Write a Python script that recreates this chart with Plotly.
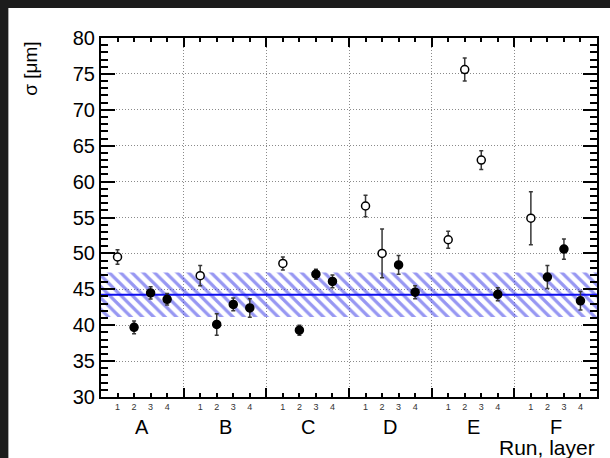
import plotly.graph_objects as go

# ---- data ----
groups = ["A", "B", "C", "D", "E", "F"]
layers = [1, 2, 3, 4]
sigma = [49.5, 39.7, 44.5, 43.6,
         46.9, 40.1, 42.9, 42.4,
         48.6, 39.3, 47.1, 46.1,
         56.6, 50.0, 48.4, 44.6,
         51.9, 75.6, 63.0, 44.3,
         54.9, 46.7, 50.6, 43.4]
sigma_err = [1.0, 0.9, 0.85, 0.8,
             1.4, 1.5, 0.9, 1.3,
             0.9, 0.7, 0.7, 0.9,
             1.5, 3.4, 1.3, 0.9,
             1.2, 1.6, 1.3, 0.9,
             3.7, 1.6, 1.4, 1.3]
open_marker = [1, 0, 0, 0,
               1, 0, 0, 0,
               1, 0, 0, 0,
               1, 1, 0, 0,
               1, 1, 1, 0,
               1, 0, 0, 0]
mean_sigma = 44.25
mean_err = 3.1
y_ticks = [30, 35, 40, 45, 50, 55, 60, 65, 70, 75, 80]

# positions: each run occupies 5 units, layers at 1..4 inside it
xs = [5 * gi + l for gi in range(len(groups)) for l in layers]
xlab = [str(l) for gi in range(len(groups)) for l in layers]
xmax = 5 * len(groups)

fig = go.Figure()

# hatched band (mean +- error)
fig.add_trace(go.Scatter(
    x=[0, xmax, xmax, 0, 0],
    y=[mean_sigma - mean_err, mean_sigma - mean_err,
       mean_sigma + mean_err, mean_sigma + mean_err, mean_sigma - mean_err],
    mode="lines", fill="toself", line=dict(width=0),
    fillcolor="rgba(0,0,0,0)",
    fillpattern=dict(shape="\\", fgcolor="#2f2fe6", bgcolor="rgba(0,0,0,0)",
                     size=8, solidity=0.4, fillmode="overlay"),
    hoverinfo="skip"))
# mean line
fig.add_trace(go.Scatter(x=[0, xmax], y=[mean_sigma, mean_sigma], mode="lines",
                         line=dict(color="#1010f0", width=2), hoverinfo="skip"))

for is_open in (0, 1):
    idx = [i for i in range(len(xs)) if open_marker[i] == is_open]
    fig.add_trace(go.Scatter(
        x=[xs[i] for i in idx], y=[sigma[i] for i in idx],
        mode="markers",
        error_y=dict(type="data", array=[sigma_err[i] for i in idx],
                     color="#383838", thickness=1.5, width=2),
        marker=dict(symbol="circle", size=8,
                    color="white" if is_open else "black",
                    line=dict(color="black", width=1.5))))

ann = []
for gi, g in enumerate(groups):
    ann.append(dict(x=5 * gi + 2.5, xref="x", y=0, yref="paper", yshift=-30,
                    text=g, showarrow=False, xanchor="center", yanchor="middle",
                    font=dict(family="Liberation Sans", size=20, color="black")))
ann.append(dict(x=1, xref="paper", y=0, yref="paper", yshift=-50,
                text="Run, layer", showarrow=False, xanchor="right", yanchor="middle",
                font=dict(family="Liberation Sans", size=21, color="black")))
ann.append(dict(x=(30 - 101) / 498, xref="paper", y=(397 - 68.5) / 359, yref="paper",
                text="σ [μm]", textangle=-90, showarrow=False,
                xanchor="center", yanchor="middle",
                font=dict(family="Liberation Sans", size=19, color="black")))

px_x = lambda p: (p - 101) / 498
px_y = lambda p: (397 - p) / 359
dark = "#1c1c1c"

fig.update_layout(
    width=610, height=458,
    margin=dict(l=101, r=11, t=38, b=61),
    paper_bgcolor="white", plot_bgcolor="white",
    showlegend=False,
    annotations=ann,
    shapes=[dict(type="rect", xref="paper", yref="paper", layer="below",
                 x0=px_x(-20), x1=px_x(8), y0=px_y(480), y1=px_y(-20),
                 fillcolor=dark, line=dict(width=0)),
            dict(type="rect", xref="paper", yref="paper", layer="below",
                 x0=px_x(-20), x1=px_x(630), y0=px_y(8), y1=px_y(-20),
                 fillcolor=dark, line=dict(width=0))],
    xaxis=dict(range=[0, xmax], tickmode="array", tickvals=xs, ticktext=xlab,
               ticks="inside", ticklen=4, tickwidth=1.5, tickcolor="black",
               showline=True, linewidth=2, linecolor="black", mirror="ticks",
               showgrid=False, zeroline=False,
               tickfont=dict(family="Liberation Sans", size=9, color="#333333"),
               minor=dict(tickmode="array", tickvals=list(range(0, xmax + 1, 5)),
                          ticks="inside", ticklen=9, tickwidth=1.5, tickcolor="black",
                          showgrid=True, gridcolor="#8a8a8a", griddash="1px,2px", gridwidth=1)),
    yaxis=dict(range=[30, 80], tickmode="array", tickvals=y_ticks,
               ticks="inside", ticklen=14, tickwidth=1.5, tickcolor="black",
               showline=True, linewidth=2, linecolor="black", mirror="ticks",
               showgrid=True, gridcolor="#8a8a8a", griddash="1px,2px", gridwidth=1,
               zeroline=False,
               tickfont=dict(family="Liberation Sans", size=20, color="black"),
               minor=dict(dtick=1, ticks="inside", ticklen=7, tickwidth=1.5,
                          tickcolor="black", showgrid=False)),
)

fig.write_html("out.html",
               post_script="document.documentElement.style.overflow='hidden';"
                           "document.body.style.overflow='hidden';")
